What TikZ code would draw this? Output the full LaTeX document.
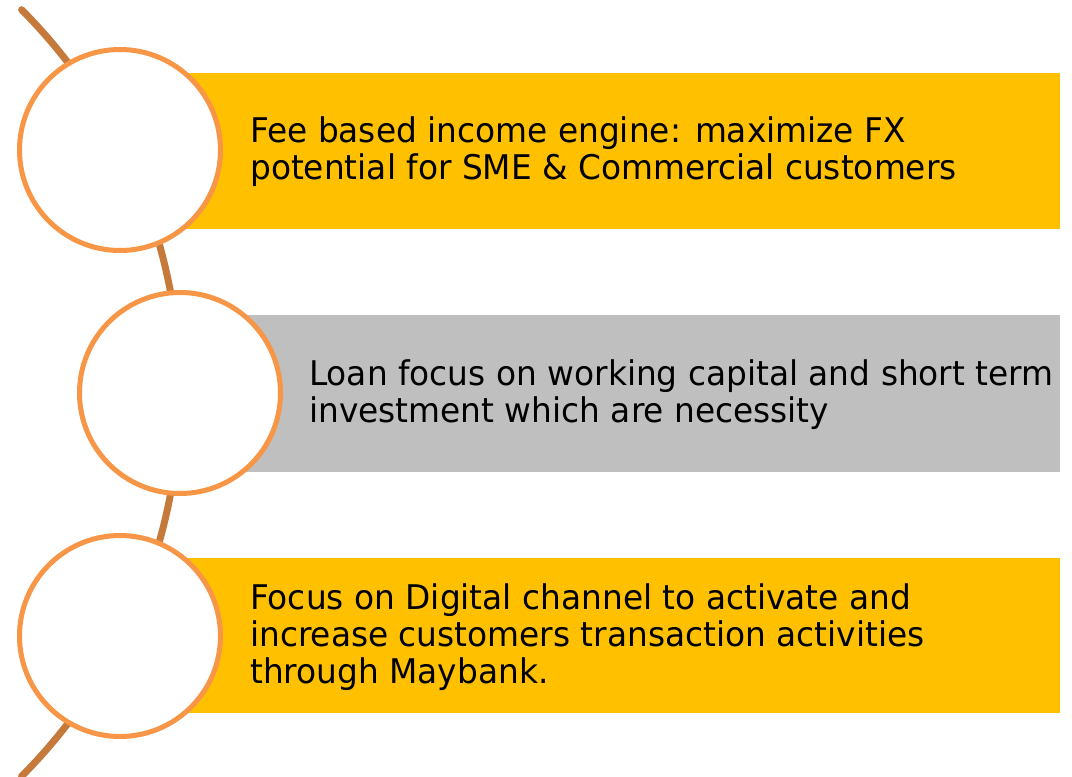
\documentclass[tikz,border=0pt]{standalone}
\usepackage{fontspec}
\setmainfont{DejaVu Sans}[FakeStretch=0.965]
\definecolor{spine}{HTML}{C5793A}
\definecolor{ringline}{HTML}{F79646}
\definecolor{bandgold}{HTML}{FFC000}
\definecolor{bandgrey}{HTML}{BFBFBF}
\begin{document}
\begin{tikzpicture}[x=1pt,y=-1pt,
  ring/.style={circle,draw=ringline,line width=5pt,fill=white,minimum size=201pt,inner sep=0pt},
  label/.style={anchor=base west,align=left,inner sep=0pt,font=\fontsize{34}{37}\selectfont},
  spineline/.style={draw=spine,line width=7pt,line cap=round}]
\useasboundingbox (0,0) rectangle (1072,777);
% curved spine through the ring centres
\coordinate (hub) at (-363,393);
\draw[spineline] (hub) ++(-44.9:543) arc[start angle=-44.9,end angle=44.9,radius=543];
% coloured bands
\fill[bandgold] (120,73) rectangle (1060,229);
\fill[bandgrey] (180,315) rectangle (1060,472);
\fill[bandgold] (120,558) rectangle (1060,713);
% rings
\node[ring] (r1) at (120,150) {};
\node[ring] (r2) at (180,393) {};
\node[ring] (r3) at (120,636) {};
% texts (anchored at the baseline of their last line)
\node[label] (t1) at (250,179) {Fee based income engine: maximize FX\\potential for SME \& Commercial customers};
\node[label] (t2) at (309,422) {Loan focus on working capital and short term\\investment which are necessity};
\node[label] (t3) at (250,683) {Focus on Digital channel to activate and\\increase customers transaction activities\\through Maybank.};
\end{tikzpicture}
\end{document}
